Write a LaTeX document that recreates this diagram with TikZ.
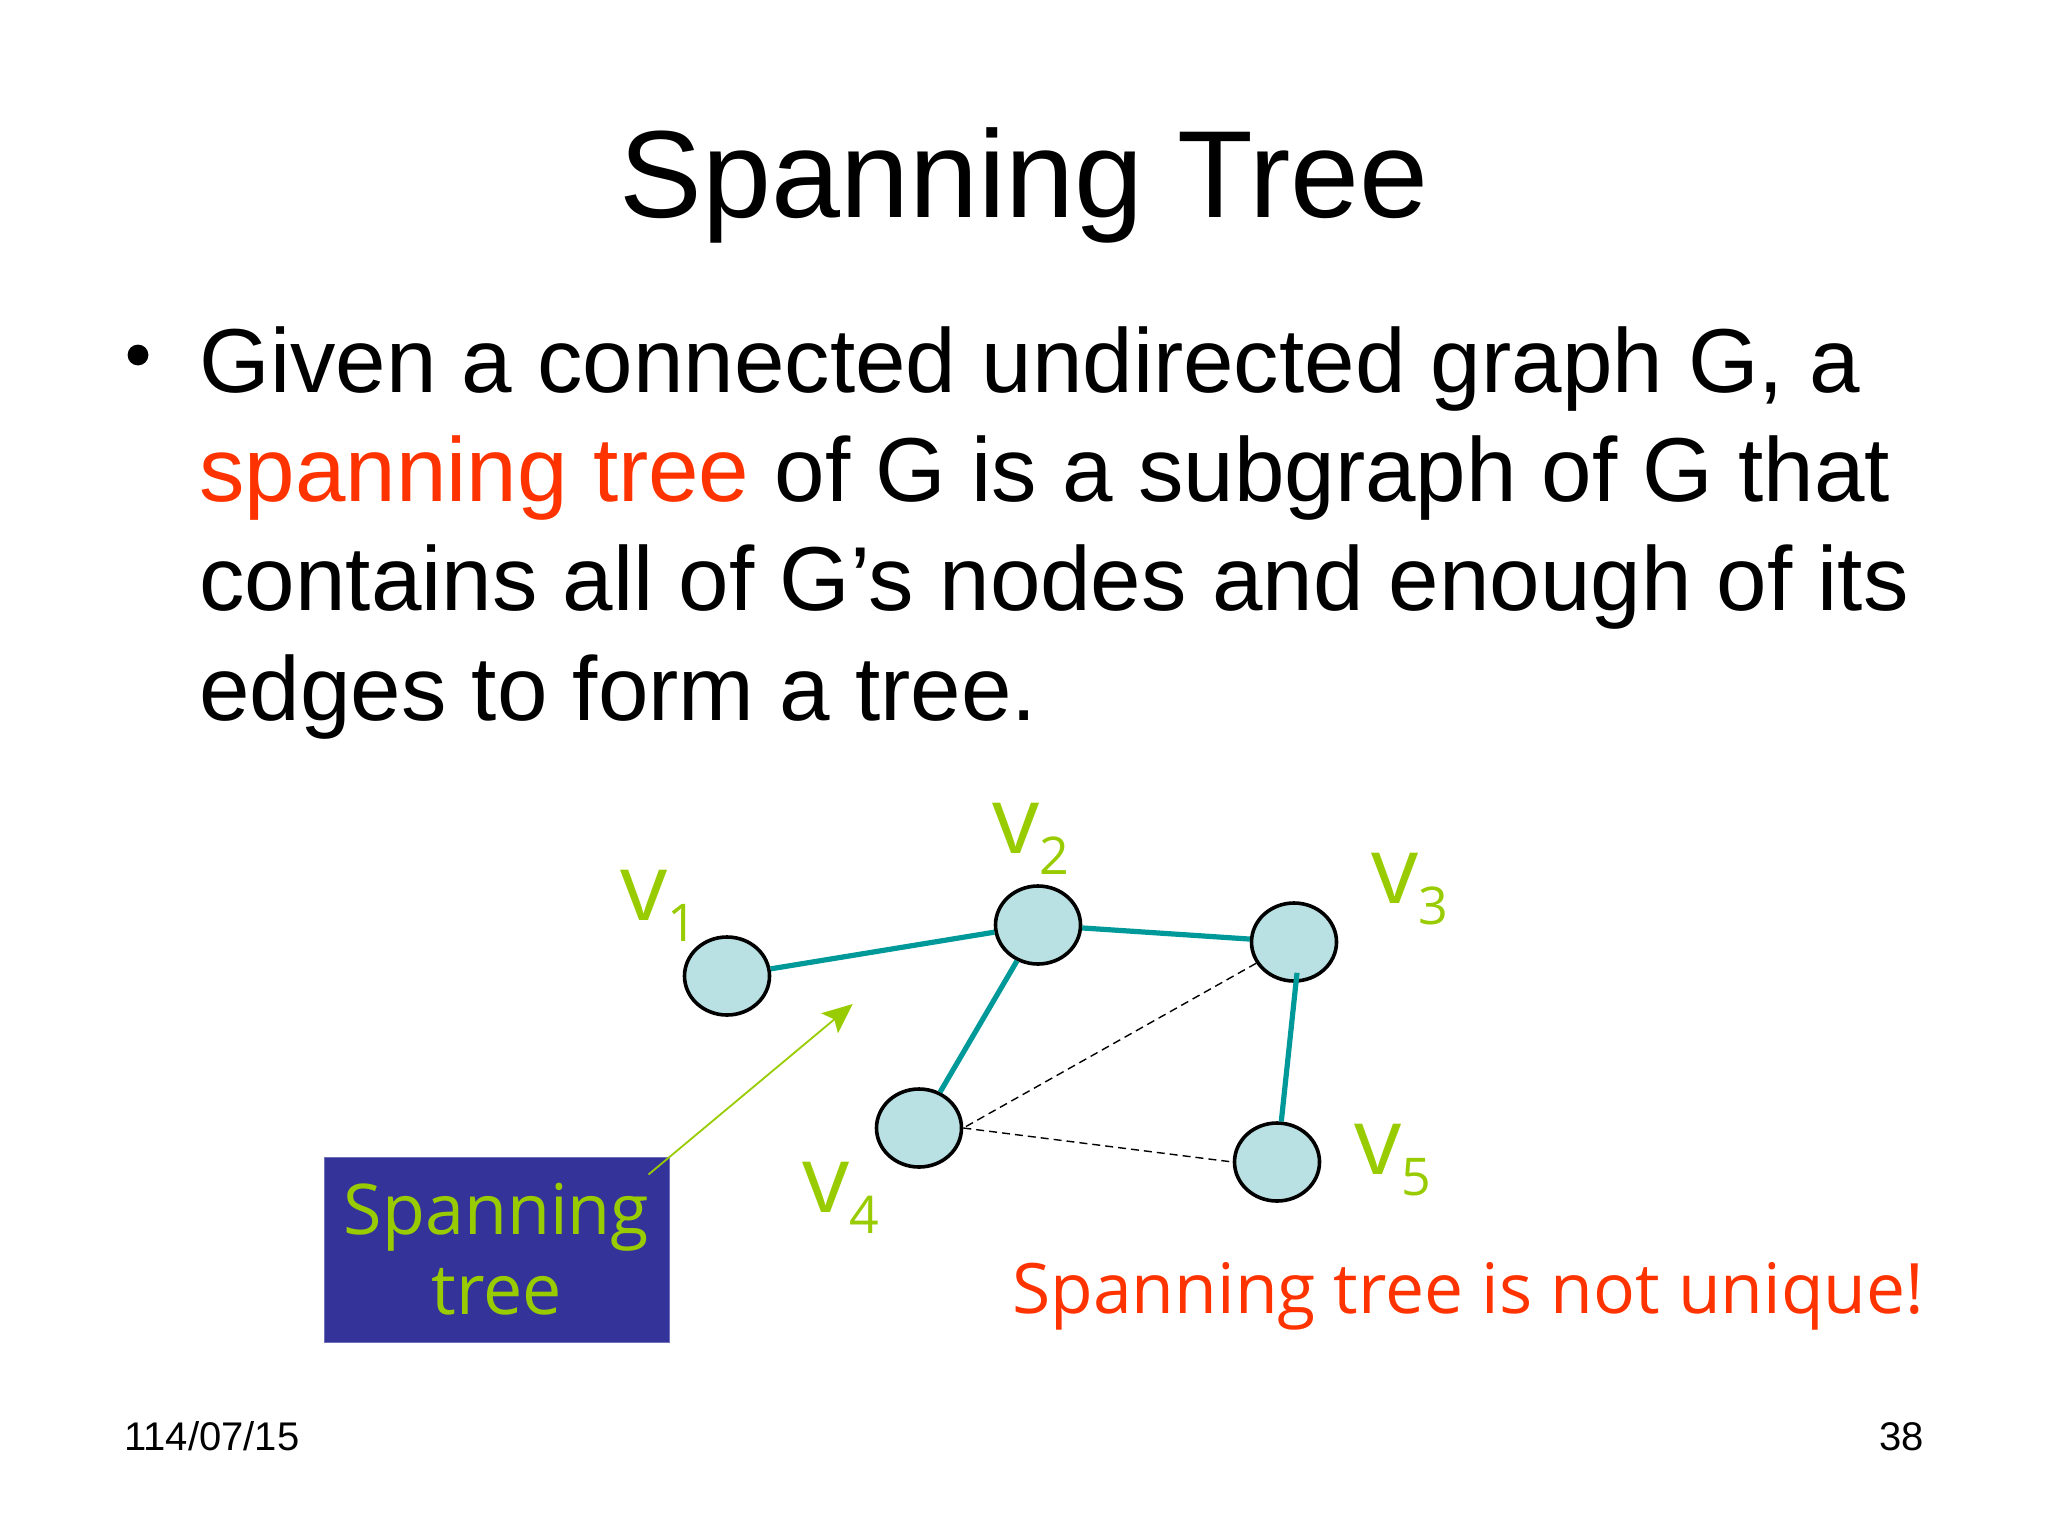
\documentclass[tikz,border=0pt]{standalone}
\usepackage{fontspec}
\setmainfont{Liberation Sans}
\newfontfamily\osans{Open Sans}
\usetikzlibrary{shapes.geometric,arrows.meta}
\definecolor{edgeteal}{RGB}{0,153,153}
\definecolor{vfill}{RGB}{185,224,226}
\definecolor{lgreen}{RGB}{153,204,0}
\definecolor{boxblue}{RGB}{51,51,153}
\definecolor{hotred}{RGB}{255,51,0}
\newcommand\vsub[1]{\raisebox{-10.5pt}{\fontsize{26}{26}\selectfont #1}}
\tikzset{
  vert/.style={ellipse, draw=black, line width=1.8pt, fill=vfill, inner sep=0pt,
    minimum width=42.5pt, minimum height=39pt},
  treeedge/.style={draw=edgeteal, line width=2.6pt},
  otheredge/.style={draw=black, line width=0.7pt, dash pattern=on 4pt off 2.5pt},
  vlab/.style={anchor=base west, inner sep=0pt, text=lgreen, font=\osans\fontsize{47}{47}\selectfont},
  bodytext/.style={anchor=base west, inner sep=0pt, font=\fontsize{45.4}{54}\selectfont},
  foot/.style={inner sep=0pt, font=\fontsize{20}{24}\selectfont},
  stbox/.style={fill=boxblue, draw=boxblue!70!white, line width=0.5pt, text=lgreen,
    minimum width=172.5pt, minimum height=92.5pt, inner sep=0pt, align=center,
    font=\osans\fontsize{35}{40}\selectfont}
}
\begin{document}
\begin{tikzpicture}[x=0.5pt,y=-0.5pt]
\useasboundingbox (0,0) rectangle (2048,1536);
% title
\node[anchor=base, inner sep=0pt, font=\fontsize{62}{70}\selectfont] (title) at (1024,217) {Spanning Tree};
% bullet text
\fill (138,355) circle (5.2pt);
\node[bodytext] (b1) at (199,392) {Given a connected undirected graph G, a};
\node[bodytext] (b2) at (199,501.3) {\textcolor{hotred}{spanning tree} of G is a subgraph of G that};
\node[bodytext] (b3) at (199,610.6) {contains all of G’s nodes and enough of its};
\node[bodytext] (b4) at (199,720) {edges to form a tree.};
% vertices
\node[vert] (v1) at (727,976) {};
\node[vert] (v2) at (1038,925) {};
\node[vert] (v3) at (1294,942) {};
\node[vert] (v4) at (919,1128) {};
\node[vert] (v5) at (1277,1162) {};
% labels
\node[vlab] (l1) at (620,920) {v\vsub{1}};
\node[vlab] (l2) at (992,853) {v\vsub{2}};
\node[vlab] (l3) at (1371,903) {v\vsub{3}};
\node[vlab] (l4) at (802,1212) {v\vsub{4}};
\node[vlab] (l5) at (1354,1174) {v\vsub{5}};
% edges
\draw[treeedge] (v1) -- (v2);
\draw[treeedge] (v2) -- (v3);
\draw[treeedge] (v2) -- (v4);
\draw[treeedge] ([shift={(3,-10)}]v3.south) -- (v5);
\draw[otheredge] (v3) -- (v4.east);
\draw[otheredge] (v4.east) -- (v5.west);
% spanning tree box and arrow
\node[stbox] (st) at (496.5,1249.5) {Spanning\\tree};
\coordinate (tip) at (852.7,1004);
\draw[draw=lgreen, line width=0.9pt, -{Stealth[length=15pt,width=13pt,inset=3pt]}]
  ([shift={(-21,18)}]st.north east) -- (tip);
% not unique
\node[anchor=base west, inner sep=0pt, text=hotred, font=\osans\fontsize{34.8}{40}\selectfont] (nu) at (1012,1313) {Spanning tree is not unique!};
% footer
\node[foot, anchor=base west] (date) at (124,1450) {114/07/15};
\node[foot, anchor=base east] (page) at (1924,1450) {38};
\end{tikzpicture}
\end{document}
